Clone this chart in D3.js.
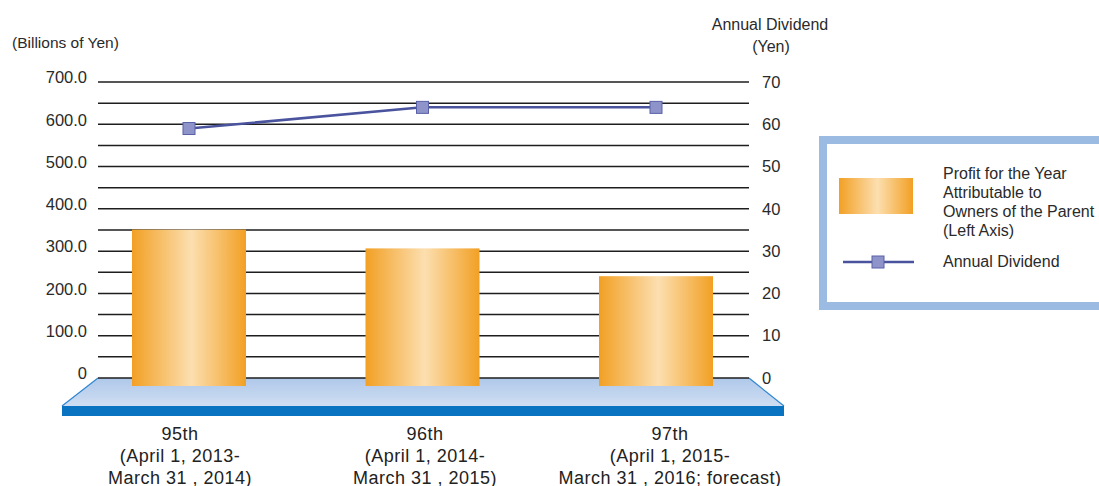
<!DOCTYPE html>
<html><head><meta charset="utf-8">
<script src="https://cdn.jsdelivr.net/npm/d3@7/dist/d3.min.js"></script>
<style>
body{margin:0;background:#fff;}
svg{display:block;font-family:"Liberation Sans",Arial,sans-serif;fill:#222;}
</style></head><body>
<svg id="c" width="1099" height="486"></svg>
<script>
const categories = ["95th", "96th", "97th"];
const categoryLines = [
  ["95th", "(April 1, 2013-", "March 31 , 2014)"],
  ["96th", "(April 1, 2014-", "March 31 , 2015)"],
  ["97th", "(April 1, 2015-", "March 31 , 2016; forecast)"]
];
const profit = [351.0, 306.5, 240.8];
const dividend = [59, 64, 64];
const leftTicks = [0, 100, 200, 300, 400, 500, 600, 700];
const rightTicks = [0, 10, 20, 30, 40, 50, 60, 70];
const gridValues = [0, 50, 100, 150, 200, 250, 300, 350, 400, 450, 500, 550, 600, 650, 700];

const svg = d3.select("#c");
const defs = svg.append("defs");
const g1 = defs.append("linearGradient").attr("id","barGrad").attr("x1","0").attr("x2","1").attr("y1","0").attr("y2","0");
g1.append("stop").attr("offset","0%").attr("stop-color","#f2a024");
g1.append("stop").attr("offset","52%").attr("stop-color","#fcdfb0");
g1.append("stop").attr("offset","100%").attr("stop-color","#f2a024");
const g2 = defs.append("linearGradient").attr("id","floorGrad").attr("x1","0").attr("x2","0").attr("y1","0").attr("y2","1");
g2.append("stop").attr("offset","0%").attr("stop-color","#afc8ea");
g2.append("stop").attr("offset","100%").attr("stop-color","#cfdef2");

const x0 = 98, x1 = 749;
const yL = d3.scaleLinear().domain([0, 700]).range([378, 82]);
const yR = d3.scaleLinear().domain([0, 70]).range([378, 82]);
const x = d3.scalePoint().domain(categories).range([189, 656]);
const xLabel = d3.scalePoint().domain(categories).range([180, 670]);
const barW = 114;

// floor
svg.append("polygon")
  .attr("points", [[x0, yL(0)], [x1, yL(0)], [784, 406], [62, 406]].map(p => p.join(",")).join(" "))
  .attr("fill", "url(#floorGrad)");
svg.append("line").attr("x1", x0).attr("y1", yL(0)).attr("x2", 62).attr("y2", 406).attr("stroke", "#2f86d2").attr("stroke-width", 1.2);
svg.append("line").attr("x1", x1).attr("y1", yL(0)).attr("x2", 784).attr("y2", 406).attr("stroke", "#2f86d2").attr("stroke-width", 1.2);
svg.append("rect").attr("x", 62).attr("y", 406).attr("width", 722).attr("height", 10).attr("fill", "#0a73c1");

// grid
svg.append("g").selectAll("line").data(gridValues).join("line")
  .attr("x1", x0).attr("x2", x1)
  .attr("y1", d => yL(d)).attr("y2", d => yL(d))
  .attr("stroke", "#1e1e1e").attr("stroke-width", 1.5);

// axes
const axL = svg.append("g").attr("transform", `translate(${x0},0)`)
  .call(d3.axisLeft(yL).tickValues(leftTicks).tickSize(0).tickPadding(11)
    .tickFormat(d => d === 0 ? "0" : d.toFixed(1)));
axL.select(".domain").remove();
axL.selectAll("text").attr("font-size", 16.5).attr("font-family", "Liberation Sans, Arial, sans-serif").attr("fill", "#2a2a2a").attr("dy", "0.05em");

const axR = svg.append("g").attr("transform", `translate(${x1},0)`)
  .call(d3.axisRight(yR).tickValues(rightTicks).tickSize(0).tickPadding(13));
axR.select(".domain").remove();
axR.selectAll("text").attr("font-size", 16.5).attr("font-family", "Liberation Sans, Arial, sans-serif").attr("fill", "#2a2a2a");

// bars
svg.append("g").selectAll("rect").data(profit).join("rect")
  .attr("x", (d, i) => x(categories[i]) - barW / 2)
  .attr("width", barW)
  .attr("y", d => yL(d))
  .attr("height", d => yL(0) + 8 - yL(d))
  .attr("fill", "url(#barGrad)");

// dividend line
const line = d3.line().x((d, i) => x(categories[i])).y(d => yR(d));
svg.append("path").datum(dividend).attr("d", line)
  .attr("fill", "none").attr("stroke", "#4a539e").attr("stroke-width", 2.5);
svg.append("g").selectAll("rect").data(dividend).join("rect")
  .attr("x", (d, i) => x(categories[i]) - 6).attr("y", d => yR(d) - 6)
  .attr("width", 12).attr("height", 12)
  .attr("fill", "#8e94c9").attr("stroke", "#5860a8").attr("stroke-width", 1);

// titles
svg.append("text").attr("x", 12).attr("y", 48).attr("font-size", 15.5).attr("fill", "#2a2a2a").text("(Billions of Yen)");
svg.append("text").attr("x", 770).attr("y", 30).attr("text-anchor", "middle").attr("font-size", 16).attr("fill", "#2a2a2a").text("Annual Dividend");
svg.append("text").attr("x", 771).attr("y", 52).attr("text-anchor", "middle").attr("font-size", 16).attr("fill", "#2a2a2a").text("(Yen)");

// category labels
const cl = svg.append("g");
categoryLines.forEach((lines, i) => {
  lines.forEach((t, j) => {
    cl.append("text").attr("x", xLabel(categories[i])).attr("y", 440 + j * 22)
      .attr("text-anchor", "middle").attr("font-size", 18).attr("letter-spacing", "0.5px").text(t);
  });
});

// legend
svg.append("rect").attr("x", 823).attr("y", 140).attr("width", 300).attr("height", 166)
  .attr("fill", "#fff").attr("stroke", "#9bbbe3").attr("stroke-width", 8);
svg.append("rect").attr("x", 839).attr("y", 178).attr("width", 74).attr("height", 36).attr("fill", "url(#barGrad)");
["Profit for the Year", "Attributable to", "Owners of the Parent", "(Left Axis)"].forEach((t, j) => {
  svg.append("text").attr("x", 943).attr("y", 179 + j * 19).attr("font-size", 16).attr("fill", "#2a2a2a").text(t);
});
svg.append("line").attr("x1", 843).attr("x2", 914).attr("y1", 262).attr("y2", 262).attr("stroke", "#4a539e").attr("stroke-width", 2.5);
svg.append("rect").attr("x", 872).attr("y", 256).attr("width", 12).attr("height", 12).attr("fill", "#8e94c9").attr("stroke", "#5860a8");
svg.append("text").attr("x", 943).attr("y", 267).attr("font-size", 16).attr("fill", "#2a2a2a").text("Annual Dividend");
</script>
</body></html>
